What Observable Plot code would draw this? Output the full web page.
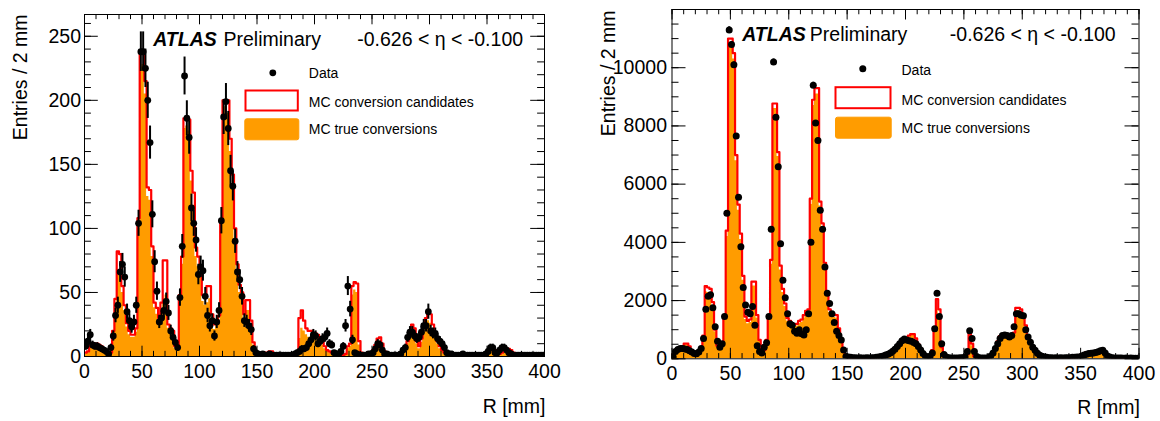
<!DOCTYPE html>
<html><head><meta charset="utf-8">
<script src="https://cdn.jsdelivr.net/npm/d3@7"></script>
<script src="https://cdn.jsdelivr.net/npm/@observablehq/plot@0.6"></script>
<style>
html,body{margin:0;padding:0;background:#fff;}
#wrap{position:relative;width:1160px;height:421px;overflow:hidden;background:#fff;}
#left,#right{position:absolute;top:0;width:580px;height:421px;}
#left{left:0} #right{left:580px}
svg{display:block}
</style></head><body><div id="wrap"><div id="left"></div><div id="right"></div></div>
<script>
const FONT = "'Liberation Sans', Arial, Helvetica, sans-serif";
const ORANGE = "#ff9c00";

// Tick labels / positions
const xTicks = [0, 50, 100, 150, 200, 250, 300, 350, 400];
const xMinor = d3.range(0, 401, 10);
const leftYTicks = [0, 50, 100, 150, 200, 250];
const leftYMinor = d3.range(0, 261, 10);
const rightYTicks = [0, 2000, 4000, 6000, 8000, 10000];
const rightYMinor = d3.range(0, 12000, 500);

// 2 mm bins, lower edges 0..398
const binLow = d3.range(0, 400, 2);

// ---------------- LEFT PANEL ----------------
const leftCandidates = [
  3,4,9,10,10,10,9,8,5,3,
  2,3,20,45,82,80,55,40,26,20,
  17,17,22,108,236,236,215,132,130,86,
  42,38,30,42,75,75,25,22,20,8,
  8,48,78,186,186,185,145,128,85,78,
  70,48,46,55,55,33,25,28,32,106,
  200,200,200,170,142,100,72,56,50,33,
  44,44,28,11,3,2,1,2,3,3,
  4,4,2,1,1,1,1,1,1,1,
  2,2,3,30,36,28,22,20,20,17,
  18,17,14,12,8,5,4,3,2,2,
  1,1,1,2,8,10,55,58,57,12,
  3,2,1,1,2,5,9,14,15,10,
  4,2,1,1,1,1,1,2,5,8,
  12,18,25,22,12,8,14,24,30,36,
  33,25,18,12,8,5,3,2,1,1,
  1,1,1,1,1,1,1,1,1,1,
  1,1,1,1,2,4,5,6,5,3,
  2,3,6,6,6,5,3,2,1,1,
  1,1,1,1,1,1,1,1,1,1
];
const leftTrue = [
  2,3,7,8,8,8,7,6,4,2,
  1,2,17,38,66,68,50,36,23,17,
  15,15,19,100,226,228,205,125,122,78,
  38,33,26,32,45,48,22,19,16,6,
  6,42,72,178,180,176,137,118,78,70,
  63,43,40,42,45,29,21,24,28,98,
  190,195,190,160,132,92,66,50,44,28,
  36,36,23,9,2,1,0,1,2,2,
  3,3,1,1,0,1,0,1,0,1,
  1,1,2,14,22,20,17,15,15,13,
  14,13,11,9,6,4,3,2,1,1,
  1,0,1,1,6,8,48,52,50,9,
  2,1,1,1,1,4,7,11,12,8,
  3,1,1,0,1,1,1,1,4,6,
  10,15,20,18,10,6,11,19,25,28,
  26,20,15,10,6,4,2,1,1,0,
  1,0,1,1,0,1,1,0,1,1,
  1,0,1,1,1,3,4,5,4,2,
  1,2,5,5,5,4,2,1,1,0,
  1,1,0,1,1,0,1,1,0,1
];
const leftData = [
  8,12,17,9,8,8,7,6,5,4,
  2,7,16,32,40,66,72,62,35,28,
  23,27,40,104,238,238,225,200,167,111,
  74,51,27,30,36,43,34,20,15,11,
  7,46,86,219,186,171,116,104,91,64,
  70,67,47,32,24,28,16,27,36,106,
  187,199,178,145,133,90,66,60,47,28,
  27,24,21,6,3,2,1,2,1,1,
  2,1,1,1,1,1,1,1,1,1,
  1,2,3,4,6,6,7,10,13,17,
  16,10,12,14,15,18,10,9,3,2,
  2,4,8,24,55,37,13,3,2,1,
  1,1,1,2,2,3,6,10,9,5,
  2,2,1,1,1,1,1,2,5,7,
  15,19,19,16,14,15,19,24,24,35,
  20,18,18,14,12,10,7,3,2,2,
  1,1,1,1,2,1,1,1,1,1,
  1,1,1,1,2,4,7,7,3,3,
  5,7,7,5,3,2,1,1,1,1,
  1,1,1,1,1,1,1,1,1,1
];

// ---------------- RIGHT PANEL ----------------
const rightCandidates = [
  150,300,350,380,430,520,520,430,300,250,
  230,250,330,800,2500,2450,2400,1950,1000,450,
  350,550,1500,4400,11000,11000,10500,7000,5300,4300,
  2850,1450,1300,1350,2650,2650,1500,650,300,300,
  650,1500,3400,8770,8770,7100,3200,2400,1900,1400,
  1300,1180,1180,1200,1300,1350,1500,1650,1700,5500,
  8900,9300,9300,5400,4650,3300,2260,1700,1550,1520,
  1500,1050,650,320,70,50,40,40,40,40,
  40,40,40,40,40,40,50,50,60,80,
  100,130,160,220,300,380,450,550,620,650,
  700,800,850,850,700,500,300,150,80,80,
  100,300,980,2050,1700,400,80,50,40,40,
  40,40,40,40,50,60,150,980,520,80,
  40,40,40,40,40,50,100,200,400,600,
  780,820,850,820,780,750,900,1750,1750,1700,
  1500,1150,800,600,430,300,220,150,100,70,
  50,40,40,40,40,40,40,40,40,40,
  40,50,50,60,80,150,200,230,230,230,
  230,250,280,290,290,250,120,60,40,30,
  30,30,30,30,30,30,30,30,30,30
];
const rightTrue = [
  130,270,320,350,400,480,480,400,280,230,
  210,230,300,740,2300,2280,2250,1820,930,420,
  320,510,1400,4200,10800,10800,10300,6800,5100,4100,
  2700,1350,1200,1250,2500,2500,1400,600,280,270,
  600,1400,3250,8600,8600,6950,3050,2280,1800,1300,
  1200,1100,1100,1120,1200,1250,1400,1550,1600,5300,
  8700,9100,9100,5250,4500,3150,2150,1600,1450,1420,
  1400,980,600,290,60,40,30,30,30,30,
  30,30,30,30,30,30,40,40,50,70,
  90,120,150,200,280,350,420,510,580,610,
  650,750,800,800,650,460,270,130,70,70,
  90,270,900,1700,1450,350,70,40,30,30,
  30,30,30,30,40,50,130,850,450,70,
  30,30,30,30,30,40,90,180,370,560,
  730,770,800,770,730,700,840,1650,1650,1600,
  1420,1080,750,560,400,280,200,140,90,60,
  40,30,30,30,30,30,30,30,30,30,
  30,40,40,50,70,140,190,210,210,210,
  210,230,260,270,270,230,110,50,30,25,
  25,25,25,25,25,25,25,25,25,25
];
const rightData = [
  60,250,320,350,350,340,320,280,230,180,
  170,230,350,700,1700,2150,2200,1750,1100,600,
  400,520,1450,5000,11300,10800,10100,7650,5550,3850,
  2450,1850,1600,1550,1800,1150,450,250,200,400,
  550,1450,4450,10200,8300,6600,3950,2700,2100,1550,
  1200,1150,950,880,1000,860,820,1000,1550,4000,
  9400,8100,7500,5100,4450,3150,2250,1900,1550,1250,
  950,800,650,300,80,60,50,40,40,30,
  40,30,30,40,30,40,40,50,60,80,
  100,130,160,200,260,330,420,520,620,680,
  650,620,600,560,520,420,300,180,100,60,
  80,200,1030,2250,1450,520,150,60,40,30,
  30,30,30,40,40,60,250,960,700,250,
  80,40,30,30,30,40,100,200,350,520,
  700,800,820,800,750,800,1100,1550,1550,1500,
  1480,1000,750,570,400,290,190,120,90,60,
  50,40,40,30,40,30,40,30,40,40,
  40,50,50,60,60,100,130,160,180,190,
  200,220,240,280,290,200,100,60,40,30,
  30,30,30,20,30,20,30,20,20,20
];

const legendLabels = ["Data", "MC conversion candidates", "MC true conversions"];

function panel(cfg) {
  const W = 580, H = 421;
  const m = cfg.margins;
  const iw = W - m.left - m.right;
  const ih = H - m.top - m.bottom;
  const hist = vals => binLow.map((r, i) => ({r, v: vals[i]})).concat([{r: 400, v: vals[vals.length - 1]}]);
  const pts = binLow.map((r, i) => ({r, v: cfg.data[i]}));
  const L = cfg.legend, T = cfg.texts;
  const fmt = d => String(d);
  return Plot.plot({
    width: W, height: H,
    marginLeft: m.left, marginRight: m.right, marginTop: m.top, marginBottom: m.bottom,
    x: {domain: [0, 400]},
    y: {domain: [0, cfg.yMax]},
    style: {fontFamily: FONT, fontSize: "19.5px", background: "white", color: "black", overflow: "visible"},
    marks: [
      Plot.areaY(hist(cfg.truth), {x: "r", y: "v", curve: "step-after", fill: ORANGE, clip: true}),
      Plot.lineY(hist(cfg.cand), {x: "r", y: "v", curve: "step-after", stroke: "#ff0000", strokeWidth: 2.2, clip: true}),
      Plot.ruleX(pts, {x: d => d.r + 1, y1: d => Math.max(0, d.v - Math.sqrt(d.v)), y2: d => d.v + Math.sqrt(d.v), stroke: "black", strokeWidth: 2, clip: true}),
      Plot.ruleY(pts, {y: "v", x1: "r", x2: d => d.r + 2, stroke: "black", strokeWidth: 2, clip: true}),
      Plot.dot(pts, {x: d => d.r + 1, y: "v", r: cfg.rDot, fill: "black", clip: true}),
      // ticks (inside, all four sides)
      Plot.ruleX(xMinor, {insetTop: ih - cfg.tx / 2, stroke: "black"}),
      Plot.ruleX(xTicks, {insetTop: ih - cfg.tx, stroke: "black"}),
      Plot.ruleX(xMinor, {insetBottom: ih - cfg.tx / 2, stroke: "black"}),
      Plot.ruleX(xTicks, {insetBottom: ih - cfg.tx, stroke: "black"}),
      Plot.ruleY(cfg.yMinor, {insetRight: iw - cfg.ty / 2, stroke: "black"}),
      Plot.ruleY(cfg.yTicks, {insetRight: iw - cfg.ty, stroke: "black"}),
      Plot.ruleY(cfg.yMinor, {insetLeft: iw - cfg.ty / 2, stroke: "black"}),
      Plot.ruleY(cfg.yTicks, {insetLeft: iw - cfg.ty, stroke: "black"}),
      Plot.frame({stroke: "black", strokeWidth: 1}),
      Plot.axisX({anchor: "bottom", ticks: xTicks, tickSize: 0, tickPadding: cfg.xPad, tickFormat: fmt, label: null}),
      Plot.axisY({anchor: "left", ticks: cfg.yTicks, tickSize: 0, tickPadding: cfg.yPad, tickFormat: fmt, label: null}),
      // axis titles
      Plot.text(["R [mm]"], {frameAnchor: "bottom-right", textAnchor: "end", lineAnchor: "bottom", dx: 1, dy: cfg.xTitleDy}),
      Plot.text(["Entries / 2 mm"], {frameAnchor: "top-left", rotate: -90, textAnchor: "end", lineAnchor: "bottom", dx: cfg.yTitleDx, dy: cfg.yTitleDy}),
      // ATLAS label and eta range
      Plot.text(["ATLAS"], {frameAnchor: "top-left", textAnchor: "start", lineAnchor: "bottom", dx: T.atlas, dy: T.base, fontWeight: "bold", fontStyle: "italic"}),
      Plot.text(["Preliminary"], {frameAnchor: "top-left", textAnchor: "start", lineAnchor: "bottom", dx: T.prelim, dy: T.base}),
      Plot.text(["-0.626 < \u03b7 < -0.100"], {frameAnchor: "top-left", textAnchor: "start", lineAnchor: "bottom", dx: T.eta, dy: T.base}),
      // legend
      Plot.dot([0], {frameAnchor: "top-left", dx: L.dotX, dy: L.dotY, r: cfg.rDot, fill: "black"}),
      Plot.frame({fill: "white", stroke: "#ff0000", strokeWidth: 2, insetLeft: L.red[0], insetRight: L.red[1], insetTop: L.red[2], insetBottom: L.red[3]}),
      Plot.frame({fill: ORANGE, stroke: ORANGE, rx: 2, insetLeft: L.org[0], insetRight: L.org[1], insetTop: L.org[2], insetBottom: L.org[3]}),
      Plot.text([legendLabels[0]], {frameAnchor: "top-left", textAnchor: "start", lineAnchor: "bottom", dx: L.textX, dy: L.base[0], fontSize: 14}),
      Plot.text([legendLabels[1]], {frameAnchor: "top-left", textAnchor: "start", lineAnchor: "bottom", dx: L.textX, dy: L.base[1], fontSize: 14}),
      Plot.text([legendLabels[2]], {frameAnchor: "top-left", textAnchor: "start", lineAnchor: "bottom", dx: L.textX, dy: L.base[2], fontSize: 14})
    ]
  });
}

const leftPlot = panel({
  cand: leftCandidates, truth: leftTrue, data: leftData,
  yMax: 267, yTicks: leftYTicks, yMinor: leftYMinor,
  margins: {left: 84, right: 36, top: 14, bottom: 65},
  tx: 10.3, ty: 13.8, rDot: 3.4, xPad: 7.5, yPad: 3.5,
  xTitleDy: 56, yTitleDx: -58, yTitleDy: 0,
  texts: {atlas: 68.7, prelim: 139, eta: 272.7, base: 31},
  legend: {dotX: 188.3, dotY: 58.3, red: [161, 246.7, 76, 246], org: [160.3, 245.7, 104.3, 216.7], textX: 224.3, base: [63.3, 92, 119.3]}
});
const rightPlot = panel({
  cand: rightCandidates, truth: rightTrue, data: rightData,
  yMax: 12000, yTicks: rightYTicks, yMinor: rightYMinor,
  margins: {left: 91.5, right: 21.5, top: 9, bottom: 62.7},
  tx: 10.5, ty: 14, rDot: 3.5, xPad: 7.8, yPad: 5,
  xTitleDy: 54.7, yTitleDx: -57.5, yTitleDy: 1,
  texts: {atlas: 70.2, prelim: 137.8, eta: 277.8, base: 31},
  legend: {dotX: 190.8, dotY: 59.3, red: [163.5, 248.5, 77.7, 250.6], org: [163.5, 247.8, 107.7, 220.6], textX: 229.5, base: [65.3, 95.3, 123.3]}
});
document.getElementById("left").appendChild(leftPlot);
document.getElementById("right").appendChild(rightPlot);
</script>
</body></html>
